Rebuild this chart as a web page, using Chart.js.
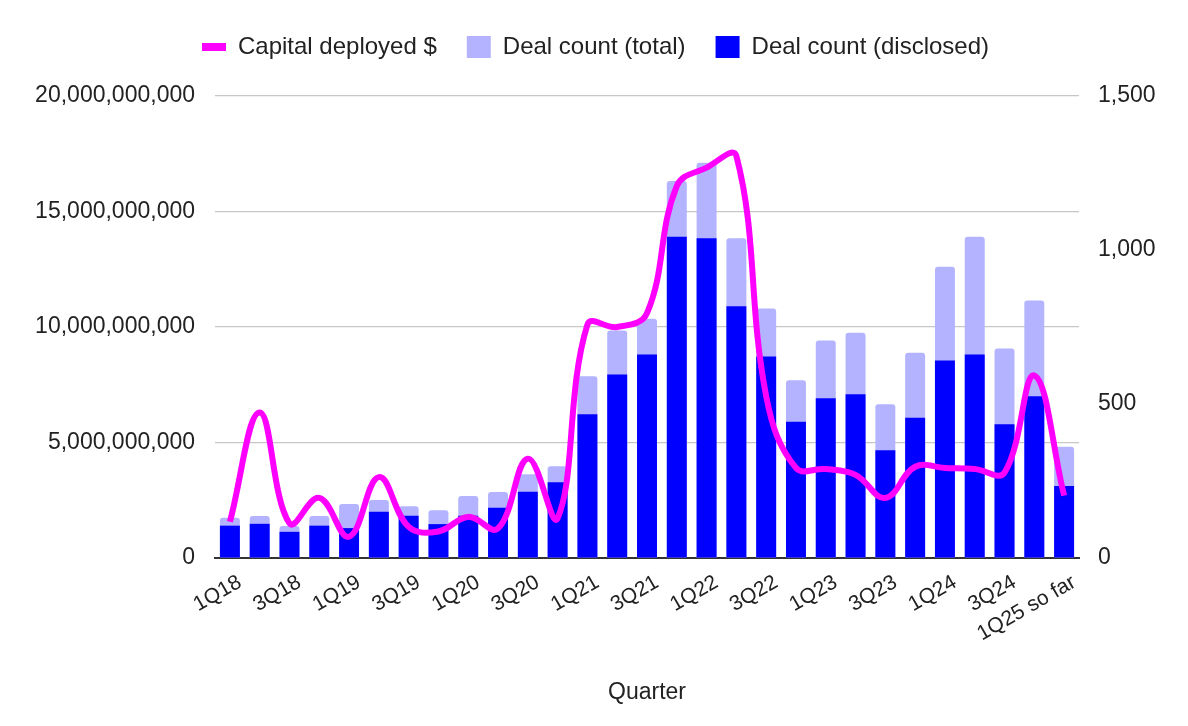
<!DOCTYPE html>
<html>
<head>
<meta charset="utf-8">
<title>Capital deployed and deal count by quarter</title>
<script src="https://cdn.jsdelivr.net/npm/chart.js@4.4.1/dist/chart.umd.min.js"></script>
<style>
  html, body { margin: 0; padding: 0; background: #fff; }
  #wrap { width: 1188px; height: 726px; }
</style>
</head>
<body>
<div id="wrap"><canvas id="chart"></canvas></div>
<script>
// --- data ---
const quarters = [
  "1Q18", "2Q18", "3Q18", "4Q18",
  "1Q19", "2Q19", "3Q19", "4Q19",
  "1Q20", "2Q20", "3Q20", "4Q20",
  "1Q21", "2Q21", "3Q21", "4Q21",
  "1Q22", "2Q22", "3Q22", "4Q22",
  "1Q23", "2Q23", "3Q23", "4Q23",
  "1Q24", "2Q24", "3Q24", "4Q24",
  "1Q25 so far"
];

// capital deployed, in $ billions (converted below)
const capitalBn = [
  1.57, 6.3, 1.5, 2.6,
  0.92, 3.5, 1.35, 1.15,
  1.78, 1.28, 4.3, 1.72,
  10.1, 10.0, 10.6, 16.1,
  16.9, 17.4, 7.0, 3.9,
  3.85, 3.6, 2.6, 3.95,
  3.9, 3.85, 3.7, 7.9,
  2.7
];
const capitalDeployed = capitalBn.map(v => v * 1e9);

const dealsTotal = [
  131, 136, 104, 136,
  175, 188, 168, 155,
  201, 214, 272, 298,
  590, 739, 777, 1224,
  1283, 1038, 810, 577,
  706, 731, 499, 666,
  946, 1043, 680, 836,
  361
];

const dealsDisclosed = [
  105, 111, 85, 105,
  97, 150, 137, 110,
  137, 163, 215, 246,
  467, 596, 661, 1043,
  1038, 817, 654, 442,
  519, 532, 350, 455,
  641, 661, 434, 525,
  234
];

const leftTicks = [0, 5e9, 10e9, 15e9, 20e9];
const rightTicks = [0, 500, 1000, 1500];

// --- chart ---
const FONT = "'Liberation Sans', Arial, sans-serif";
const TXT = "#222";
const fmt = v => Number(v).toLocaleString("en-US");

// push the plot down below the legend
const legendSpacer = {
  id: "legendSpacer",
  afterInit(chart) {
    const fit = chart.legend.fit;
    chart.legend.fit = function () { fit.call(this); this.height += 27; };
  }
};

const ctx = document.getElementById("chart").getContext("2d");
new Chart(ctx, {
  data: {
    labels: quarters,
    datasets: [
      {
        type: "line",
        label: "Capital deployed $",
        data: capitalDeployed,
        yAxisID: "y",
        borderColor: "#ff00ff",
        backgroundColor: "#ff00ff",
        borderWidth: 6,
        tension: 0.4,
        pointRadius: 0,
        pointHoverRadius: 0,
        order: 0
      },
      {
        type: "bar",
        label: "Deal count (total)",
        data: dealsTotal,
        yAxisID: "y1",
        backgroundColor: "#b3b3ff",
        grouped: false,
        categoryPercentage: 1,
        barPercentage: 0.67,
        borderRadius: { topLeft: 3, topRight: 3 },
        borderSkipped: "bottom",
        order: 2
      },
      {
        type: "bar",
        label: "Deal count (disclosed)",
        data: dealsDisclosed,
        yAxisID: "y1",
        backgroundColor: "#0000ff",
        grouped: false,
        categoryPercentage: 1,
        barPercentage: 0.67,
        order: 1
      }
    ]
  },
  plugins: [legendSpacer],
  options: {
    responsive: true,
    maintainAspectRatio: false,
    animation: false,
    layout: { padding: { left: 35, right: 32, top: 5, bottom: 20 } },
    plugins: {
      tooltip: { enabled: false },
      legend: {
        position: "top",
        labels: {
          color: TXT,
          font: { family: FONT, size: 24 },
          usePointStyle: true,
          pointStyleWidth: 24,
          boxHeight: 22,
          padding: 30,
          sort: (a, b) => a.datasetIndex - b.datasetIndex,
          generateLabels(chart) {
            const items = Chart.defaults.plugins.legend.labels.generateLabels(chart);
            items.forEach(it => {
              if (it.datasetIndex === 0) { it.pointStyle = "line"; it.lineWidth = 8; }
              else { it.pointStyle = "rect"; it.lineWidth = 0; }
            });
            return items;
          }
        }
      }
    },
    scales: {
      x: {
        grid: { display: false, drawTicks: false },
        border: { display: true, color: "#333", width: 2 },
        ticks: {
          autoSkip: false,
          maxRotation: 30,
          minRotation: 30,
          padding: 12,
          labelOffset: 10,
          color: TXT,
          font: { family: FONT, size: 21 },
          callback: (v, i) => (i % 2 === 0 ? quarters[i] : "")
        },
        title: {
          display: true,
          text: "Quarter",
          color: TXT,
          font: { family: FONT, size: 23 },
          padding: { top: 0, bottom: 0 }
        },
        afterFit: s => { s.height = 148; }
      },
      y: {
        position: "left",
        min: 0,
        max: 20e9,
        afterBuildTicks: s => { s.ticks = leftTicks.map(v => ({ value: v })); },
        grid: { color: "#c6c6c6", lineWidth: 1.3, drawTicks: false },
        border: { display: false },
        ticks: {
          padding: 20,
          color: TXT,
          font: { family: FONT, size: 23 },
          callback: v => fmt(v)
        },
        afterFit: s => { s.width = 180; }
      },
      y1: {
        position: "right",
        min: 0,
        max: 1500,
        afterBuildTicks: s => { s.ticks = rightTicks.map(v => ({ value: v })); },
        grid: { drawOnChartArea: false, drawTicks: false },
        border: { display: false },
        ticks: {
          padding: 19,
          color: TXT,
          font: { family: FONT, size: 23 },
          callback: v => fmt(v)
        },
        afterFit: s => { s.width = 77; }
      }
    }
  }
});
</script>
</body>
</html>
